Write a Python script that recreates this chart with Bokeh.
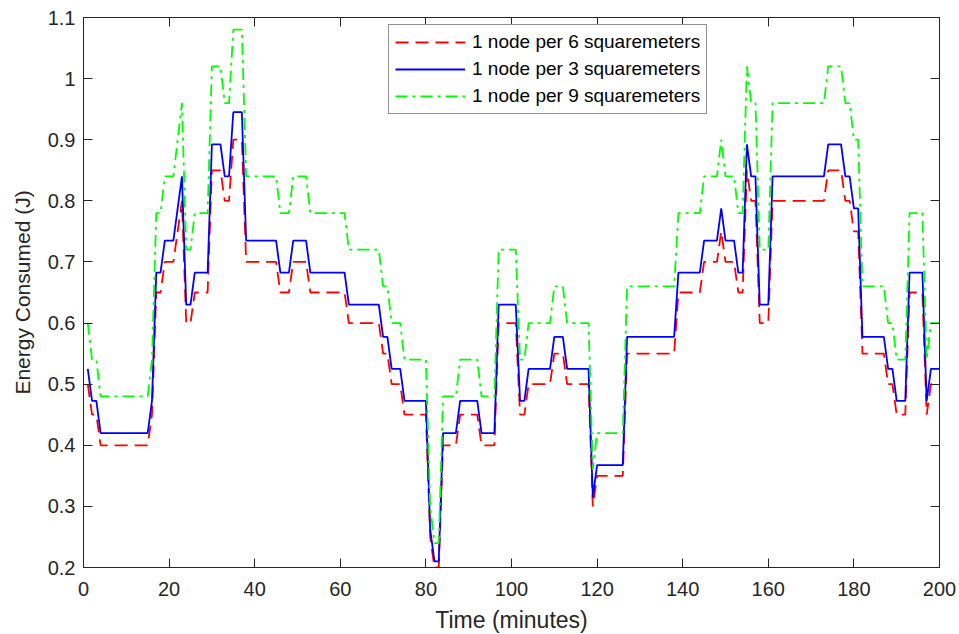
from bokeh.plotting import figure
from bokeh.models import LinearAxis, FixedTicker, Range1d, Legend, LegendItem
from bokeh.embed import file_html
from bokeh.resources import INLINE

# Step runs (minutes, inclusive) and energy values
run_start = [1, 2, 4, 16, 17, 19, 22, 23, 24, 26, 30, 33, 35, 38, 46, 49, 53, 62, 70, 72,
             75, 81, 82, 84, 88, 93, 97, 102, 104, 110, 113, 119, 120, 127, 139, 145, 149,
             150, 153, 155, 156, 158, 161, 174, 178, 180, 182, 188, 190, 193, 197, 198]
run_end = [1, 3, 15, 16, 18, 21, 22, 23, 25, 29, 32, 34, 37, 45, 48, 52, 61, 69, 71, 74,
           80, 81, 83, 87, 92, 96, 101, 103, 109, 112, 118, 119, 126, 138, 144, 148, 149,
           152, 154, 155, 157, 160, 173, 177, 179, 181, 187, 189, 192, 196, 197, 200]
energy_6 = [0.5, 0.45, 0.4, 0.45, 0.65, 0.7, 0.75, 0.8, 0.6, 0.65, 0.85, 0.8, 0.9, 0.7, 0.65,
            0.7, 0.65, 0.6, 0.55, 0.5, 0.45, 0.25, 0.2, 0.4, 0.45, 0.4, 0.6, 0.45, 0.5, 0.55,
            0.5, 0.3, 0.35, 0.55, 0.65, 0.7, 0.75, 0.7, 0.65, 0.85, 0.8, 0.6, 0.8, 0.85, 0.8,
            0.75, 0.55, 0.5, 0.45, 0.65, 0.45, 0.5]
energy_3 = [0.525, 0.4725, 0.42, 0.4725, 0.6825, 0.735, 0.7875, 0.84, 0.63, 0.6825, 0.8925,
            0.84, 0.945, 0.735, 0.6825, 0.735, 0.6825, 0.63, 0.5775, 0.525, 0.4725, 0.2625,
            0.21, 0.42, 0.4725, 0.42, 0.63, 0.4725, 0.525, 0.5775, 0.525, 0.315, 0.3675,
            0.5775, 0.6825, 0.735, 0.7875, 0.735, 0.6825, 0.8925, 0.84, 0.63, 0.84, 0.8925,
            0.84, 0.7875, 0.5775, 0.525, 0.4725, 0.6825, 0.4725, 0.525]
energy_9 = [0.6, 0.54, 0.48, 0.54, 0.78, 0.84, 0.9, 0.96, 0.72, 0.78, 1.02, 0.96, 1.08, 0.84,
            0.78, 0.84, 0.78, 0.72, 0.66, 0.6, 0.54, 0.3, 0.24, 0.48, 0.54, 0.48, 0.72, 0.54,
            0.6, 0.66, 0.6, 0.36, 0.42, 0.66, 0.78, 0.84, 0.9, 0.84, 0.78, 1.02, 0.96, 0.72,
            0.96, 1.02, 0.96, 0.9, 0.66, 0.6, 0.54, 0.78, 0.54, 0.6]

series_labels = ["1 node per 6 squaremeters", "1 node per 3 squaremeters",
                 "1 node per 9 squaremeters"]

x_ticks = [0, 20, 40, 60, 80, 100, 120, 140, 160, 180, 200]
y_ticks = [0.2, 0.3, 0.4, 0.5, 0.6, 0.7, 0.8, 0.9, 1.0, 1.1]
y_tick_labels = ["0.2", "0.3", "0.4", "0.5", "0.6", "0.7", "0.8", "0.9", "1", "1.1"]


def vertices(values):
    xs, ys = [], []
    for a, b, v in zip(run_start, run_end, values):
        xs.append(a)
        ys.append(v)
        if b != a:
            xs.append(b)
            ys.append(v)
    return xs, ys


FONT = "Liberation Sans"
AX = "#262626"

p = figure(frame_width=856, frame_height=550,
           x_range=Range1d(0, 200), y_range=Range1d(0.2, 1.1),
           output_backend="svg", toolbar_location=None,
           min_border_left=83, min_border_right=20, min_border_top=17, min_border_bottom=67)
p.xgrid.visible = False
p.ygrid.visible = False
p.outline_line_color = AX
p.outline_line_width = 1
p.background_fill_color = "white"
p.border_fill_color = "white"


def style_axis(ax, ticks, show_labels):
    ax.ticker = FixedTicker(ticks=ticks)
    ax.minor_tick_line_color = None
    ax.major_tick_in = 9
    ax.major_tick_out = 0
    ax.major_tick_line_color = AX
    ax.axis_line_color = AX
    ax.major_label_text_font = FONT
    if show_labels:
        ax.major_label_text_color = AX
        ax.major_label_text_font_size = "20px"
        ax.axis_label_text_font = FONT
        ax.axis_label_text_font_style = "normal"
        ax.axis_label_text_color = AX
    else:
        ax.major_label_text_color = None
        ax.major_label_text_font_size = "0px"
        ax.major_label_standoff = 0


style_axis(p.xaxis[0], x_ticks, True)
style_axis(p.yaxis[0], y_ticks, True)
p.xaxis[0].axis_label = "Time (minutes)"
p.yaxis[0].axis_label = "Energy Consumed (J)"
p.xaxis[0].major_label_standoff = 14
p.yaxis[0].major_label_standoff = 8
p.xaxis[0].axis_label_text_font_size = "23px"
p.yaxis[0].axis_label_text_font_size = "21px"
p.xaxis[0].axis_label_standoff = 8
p.yaxis[0].axis_label_standoff = 11
p.yaxis[0].major_label_overrides = {t: s for t, s in zip(y_ticks, y_tick_labels)}

top_axis = LinearAxis()
style_axis(top_axis, x_ticks, False)
p.add_layout(top_axis, "above")
right_axis = LinearAxis()
style_axis(right_axis, y_ticks, False)
p.add_layout(right_axis, "right")

x6, y6 = vertices(energy_6)
x3, y3 = vertices(energy_3)
x9, y9 = vertices(energy_9)

r6 = p.line(x6, y6, line_color="#FF0000", line_width=1.8, line_dash="13 7")
r3 = p.line(x3, y3, line_color="#0000FF", line_width=1.8)
r9 = p.line(x9, y9, line_color="#00FF00", line_width=1.8, line_dash="12 5 3 5")

legend = Legend(items=[LegendItem(label=series_labels[0], renderers=[r6]),
                       LegendItem(label=series_labels[1], renderers=[r3]),
                       LegendItem(label=series_labels[2], renderers=[r9])],
                location=(305, 453))
legend.label_text_font = FONT
legend.label_text_font_size = "19px"
legend.label_text_color = "#000000"
legend.label_height = 22
legend.glyph_height = 22
legend.glyph_width = 70
legend.label_standoff = 7
legend.spacing = 5
legend.padding = 6
legend.margin = 0
legend.border_line_color = AX
legend.border_line_width = 1
legend.background_fill_color = "white"
legend.background_fill_alpha = 1.0
p.add_layout(legend, "center")

open("out.html", "w").write(file_html(p, INLINE))
